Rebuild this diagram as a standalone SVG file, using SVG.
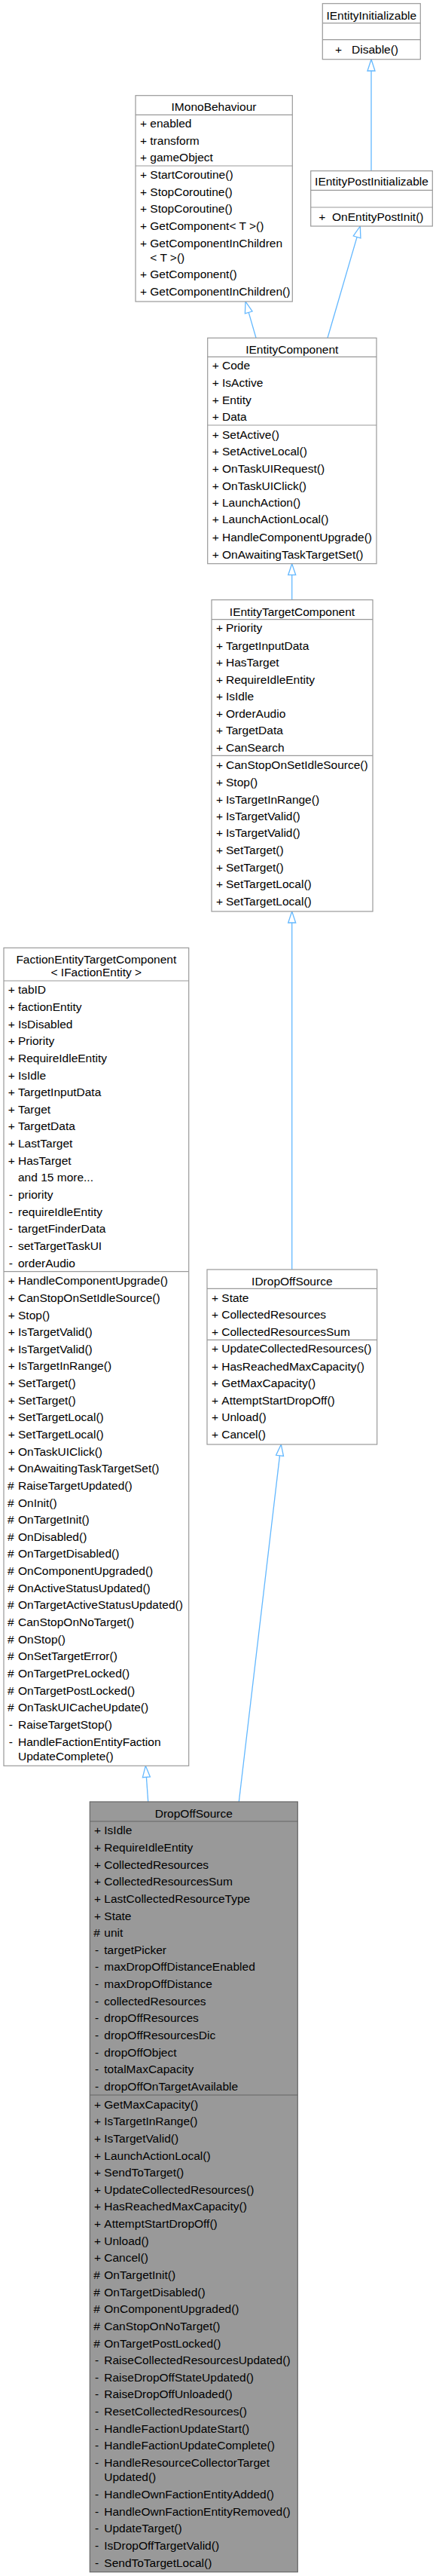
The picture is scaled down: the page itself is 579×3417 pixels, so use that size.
<svg xmlns="http://www.w3.org/2000/svg" width="579" height="3417" viewBox="0 0 579 3417">
<style>
text{font-family:"Liberation Sans",Arial,Helvetica,sans-serif;font-size:15.5px;fill:#000}
.c{text-anchor:middle}
.box{fill:#fff;stroke:#999;stroke-width:1.2}
.sep{stroke:#999;stroke-width:1.2}
.cur{fill:#999;stroke:#666;stroke-width:1.2}
.sepc{stroke:#666;stroke-width:1.2}
.edge{fill:none;stroke:#63b8ff;stroke-width:1.3}
.head{fill:#fff;stroke:#63b8ff;stroke-width:1.3}
</style>
<rect width="579" height="3417" fill="#fff"/>
<g id="edges">
<path class="edge" d="M493,226.7 V94"/>
<polygon class="head" points="493,78.7 488,94 498,94"/>
<path class="edge" d="M340,448.3 L330.2,414.4"/>
<polygon class="head" points="326,400 325.4,415.8 335,413"/>
<path class="edge" d="M435,448.3 L474.1,314.4"/>
<polygon class="head" points="478.3,300 469.3,313 478.9,315.8"/>
<path class="edge" d="M387.7,795.7 V762.7"/>
<polygon class="head" points="387.7,747.7 382.7,762.7 392.7,762.7"/>
<path class="edge" d="M387.7,1684 V1224"/>
<polygon class="head" points="387.7,1209 382.7,1224 392.7,1224"/>
<path class="edge" d="M317.3,2390 L371.5,1930.9"/>
<polygon class="head" points="373.3,1916 366.6,1930.3 376.5,1931.5"/>
<path class="edge" d="M196.7,2390 L194.4,2357.3"/>
<polygon class="head" points="193.3,2342.3 189.4,2357.7 199.4,2357"/>
</g>
<g id="IEntityInitializable">
<rect class="box" x="428.3" y="4.7" width="130" height="74"/>
<line class="sep" x1="428.3" y1="30.7" x2="558.3" y2="30.7"/>
<line class="sep" x1="428.3" y1="52.7" x2="558.3" y2="52.7"/>
<text class="c" x="493.3" y="26">IEntityInitializable</text>
<text x="445" y="70.5">+</text><text x="467" y="70.5">Disable()</text>
</g>
<g id="IMonoBehaviour">
<rect class="box" x="180" y="126.7" width="208.3" height="273.3"/>
<line class="sep" x1="180" y1="152.3" x2="388.3" y2="152.3"/>
<line class="sep" x1="180" y1="220" x2="388.3" y2="220"/>
<text class="c" x="284" y="147">IMonoBehaviour</text>
<text x="186" y="169.3">+</text><text x="199.3" y="169.3">enabled</text>
<text x="186" y="192.3">+</text><text x="199.3" y="192.3">transform</text>
<text x="186" y="214.3">+</text><text x="199.3" y="214.3">gameObject</text>
<text x="186" y="237.3">+</text><text x="199.3" y="237.3">StartCoroutine()</text>
<text x="186" y="260.3">+</text><text x="199.3" y="260.3">StopCoroutine()</text>
<text x="186" y="282.3">+</text><text x="199.3" y="282.3">StopCoroutine()</text>
<text x="186" y="305.3">+</text><text x="199.3" y="305.3">GetComponent&lt; T &gt;()</text>
<text x="186" y="328.3">+</text><text x="199.3" y="328.3">GetComponentInChildren</text>
<text x="199.3" y="346.7">&lt; T &gt;()</text>
<text x="186" y="369.3">+</text><text x="199.3" y="369.3">GetComponent()</text>
<text x="186" y="392.3">+</text><text x="199.3" y="392.3">GetComponentInChildren()</text>
</g>
<g id="IEntityPostInitializable">
<rect class="box" x="412.7" y="226.7" width="161.6" height="73.3"/>
<line class="sep" x1="412.7" y1="252.3" x2="574.3" y2="252.3"/>
<line class="sep" x1="412.7" y1="275" x2="574.3" y2="275"/>
<text class="c" x="493.5" y="246.3">IEntityPostInitializable</text>
<text x="423.3" y="292.5">+</text><text x="441" y="292.5">OnEntityPostInit()</text>
</g>
<g id="IEntityComponent">
<rect class="box" x="275.7" y="448.3" width="224.3" height="299.4"/>
<line class="sep" x1="275.7" y1="473.3" x2="500" y2="473.3"/>
<line class="sep" x1="275.7" y1="564" x2="500" y2="564"/>
<text class="c" x="387.8" y="468.6">IEntityComponent</text>
<text x="281.7" y="490">+</text><text x="295" y="490">Code</text>
<text x="281.7" y="513.3">+</text><text x="295" y="513.3">IsActive</text>
<text x="281.7" y="536">+</text><text x="295" y="536">Entity</text>
<text x="281.7" y="558.3">+</text><text x="295" y="558.3">Data</text>
<text x="281.7" y="581.7">+</text><text x="295" y="581.7">SetActive()</text>
<text x="281.7" y="604.3">+</text><text x="295" y="604.3">SetActiveLocal()</text>
<text x="281.7" y="627.3">+</text><text x="295" y="627.3">OnTaskUIRequest()</text>
<text x="281.7" y="650">+</text><text x="295" y="650">OnTaskUIClick()</text>
<text x="281.7" y="672.3">+</text><text x="295" y="672.3">LaunchAction()</text>
<text x="281.7" y="694.3">+</text><text x="295" y="694.3">LaunchActionLocal()</text>
<text x="281.7" y="717.7">+</text><text x="295" y="717.7">HandleComponentUpgrade()</text>
<text x="281.7" y="740.7">+</text><text x="295" y="740.7">OnAwaitingTaskTargetSet()</text>
</g>
<g id="IEntityTargetComponent">
<rect class="box" x="281" y="795.7" width="214" height="413.3"/>
<line class="sep" x1="281" y1="821.7" x2="495" y2="821.7"/>
<line class="sep" x1="281" y1="1002.3" x2="495" y2="1002.3"/>
<text class="c" x="388" y="817">IEntityTargetComponent</text>
<text x="287" y="838.3">+</text><text x="300" y="838.3">Priority</text>
<text x="287" y="861.7">+</text><text x="300" y="861.7">TargetInputData</text>
<text x="287" y="884.3">+</text><text x="300" y="884.3">HasTarget</text>
<text x="287" y="906.7">+</text><text x="300" y="906.7">RequireIdleEntity</text>
<text x="287" y="929">+</text><text x="300" y="929">IsIdle</text>
<text x="287" y="951.7">+</text><text x="300" y="951.7">OrderAudio</text>
<text x="287" y="974.3">+</text><text x="300" y="974.3">TargetData</text>
<text x="287" y="997">+</text><text x="300" y="997">CanSearch</text>
<text x="287" y="1020.3">+</text><text x="300" y="1020.3">CanStopOnSetIdleSource()</text>
<text x="287" y="1042.7">+</text><text x="300" y="1042.7">Stop()</text>
<text x="287" y="1066">+</text><text x="300" y="1066">IsTargetInRange()</text>
<text x="287" y="1088.3">+</text><text x="300" y="1088.3">IsTargetValid()</text>
<text x="287" y="1110">+</text><text x="300" y="1110">IsTargetValid()</text>
<text x="287" y="1133.3">+</text><text x="300" y="1133.3">SetTarget()</text>
<text x="287" y="1156">+</text><text x="300" y="1156">SetTarget()</text>
<text x="287" y="1178.3">+</text><text x="300" y="1178.3">SetTargetLocal()</text>
<text x="287" y="1201">+</text><text x="300" y="1201">SetTargetLocal()</text>
</g>
<g id="FactionEntityTargetComponent">
<rect class="box" x="5" y="1257.3" width="245.7" height="1085"/>
<line class="sep" x1="5" y1="1301" x2="250.7" y2="1301"/>
<line class="sep" x1="5" y1="1686.7" x2="250.7" y2="1686.7"/>
<text class="c" x="127.8" y="1278">FactionEntityTargetComponent</text>
<text class="c" x="127.8" y="1295.3">&lt; IFactionEntity &gt;</text>
<text x="10.7" y="1318.3">+</text><text x="24" y="1318.3">tabID</text>
<text x="10.7" y="1340.9">+</text><text x="24" y="1340.9">factionEntity</text>
<text x="10.7" y="1363.6">+</text><text x="24" y="1363.6">IsDisabled</text>
<text x="10.7" y="1386.2">+</text><text x="24" y="1386.2">Priority</text>
<text x="10.7" y="1408.9">+</text><text x="24" y="1408.9">RequireIdleEntity</text>
<text x="10.7" y="1431.5">+</text><text x="24" y="1431.5">IsIdle</text>
<text x="10.7" y="1454.1">+</text><text x="24" y="1454.1">TargetInputData</text>
<text x="10.7" y="1476.8">+</text><text x="24" y="1476.8">Target</text>
<text x="10.7" y="1499.4">+</text><text x="24" y="1499.4">TargetData</text>
<text x="10.7" y="1522.1">+</text><text x="24" y="1522.1">LastTarget</text>
<text x="10.7" y="1544.7">+</text><text x="24" y="1544.7">HasTarget</text>
<text x="24" y="1567.3">and 15 more...</text>
<text x="11.7" y="1590">-</text><text x="24" y="1590">priority</text>
<text x="11.7" y="1612.6">-</text><text x="24" y="1612.6">requireIdleEntity</text>
<text x="11.7" y="1635.3">-</text><text x="24" y="1635.3">targetFinderData</text>
<text x="11.7" y="1657.9">-</text><text x="24" y="1657.9">setTargetTaskUI</text>
<text x="11.7" y="1680.5">-</text><text x="24" y="1680.5">orderAudio</text>
<text x="10.7" y="1704.2">+</text><text x="24" y="1704.2">HandleComponentUpgrade()</text>
<text x="10.7" y="1726.8">+</text><text x="24" y="1726.8">CanStopOnSetIdleSource()</text>
<text x="10.7" y="1749.5">+</text><text x="24" y="1749.5">Stop()</text>
<text x="10.7" y="1772.1">+</text><text x="24" y="1772.1">IsTargetValid()</text>
<text x="10.7" y="1794.7">+</text><text x="24" y="1794.7">IsTargetValid()</text>
<text x="10.7" y="1817.4">+</text><text x="24" y="1817.4">IsTargetInRange()</text>
<text x="10.7" y="1840">+</text><text x="24" y="1840">SetTarget()</text>
<text x="10.7" y="1862.7">+</text><text x="24" y="1862.7">SetTarget()</text>
<text x="10.7" y="1885.3">+</text><text x="24" y="1885.3">SetTargetLocal()</text>
<text x="10.7" y="1907.9">+</text><text x="24" y="1907.9">SetTargetLocal()</text>
<text x="10.7" y="1930.6">+</text><text x="24" y="1930.6">OnTaskUIClick()</text>
<text x="10.7" y="1953.2">+</text><text x="24" y="1953.2">OnAwaitingTaskTargetSet()</text>
<text x="10" y="1975.9">#</text><text x="24" y="1975.9">RaiseTargetUpdated()</text>
<text x="10" y="1998.5">#</text><text x="24" y="1998.5">OnInit()</text>
<text x="10" y="2021.1">#</text><text x="24" y="2021.1">OnTargetInit()</text>
<text x="10" y="2043.8">#</text><text x="24" y="2043.8">OnDisabled()</text>
<text x="10" y="2066.4">#</text><text x="24" y="2066.4">OnTargetDisabled()</text>
<text x="10" y="2089.1">#</text><text x="24" y="2089.1">OnComponentUpgraded()</text>
<text x="10" y="2111.7">#</text><text x="24" y="2111.7">OnActiveStatusUpdated()</text>
<text x="10" y="2134.3">#</text><text x="24" y="2134.3">OnTargetActiveStatusUpdated()</text>
<text x="10" y="2157">#</text><text x="24" y="2157">CanStopOnNoTarget()</text>
<text x="10" y="2179.6">#</text><text x="24" y="2179.6">OnStop()</text>
<text x="10" y="2202.3">#</text><text x="24" y="2202.3">OnSetTargetError()</text>
<text x="10" y="2224.9">#</text><text x="24" y="2224.9">OnTargetPreLocked()</text>
<text x="10" y="2247.5">#</text><text x="24" y="2247.5">OnTargetPostLocked()</text>
<text x="10" y="2270.2">#</text><text x="24" y="2270.2">OnTaskUICacheUpdate()</text>
<text x="11.7" y="2292.8">-</text><text x="24" y="2292.8">RaiseTargetStop()</text>
<text x="11.7" y="2315.5">-</text><text x="24" y="2315.5">HandleFactionEntityFaction</text>
<text x="24" y="2334.7">UpdateComplete()</text>
</g>
<g id="IDropOffSource">
<rect class="box" x="275" y="1684" width="225.7" height="232"/>
<line class="sep" x1="275" y1="1709.3" x2="500.7" y2="1709.3"/>
<line class="sep" x1="275" y1="1777.3" x2="500.7" y2="1777.3"/>
<text class="c" x="387.8" y="1704.6">IDropOffSource</text>
<text x="281" y="1726.7">+</text><text x="294.3" y="1726.7">State</text>
<text x="281" y="1749.3">+</text><text x="294.3" y="1749.3">CollectedResources</text>
<text x="281" y="1772.3">+</text><text x="294.3" y="1772.3">CollectedResourcesSum</text>
<text x="281" y="1794.3">+</text><text x="294.3" y="1794.3">UpdateCollectedResources()</text>
<text x="281" y="1817.7">+</text><text x="294.3" y="1817.7">HasReachedMaxCapacity()</text>
<text x="281" y="1840.3">+</text><text x="294.3" y="1840.3">GetMaxCapacity()</text>
<text x="281" y="1862.7">+</text><text x="294.3" y="1862.7">AttemptStartDropOff()</text>
<text x="281" y="1885">+</text><text x="294.3" y="1885">Unload()</text>
<text x="281" y="1907.7">+</text><text x="294.3" y="1907.7">Cancel()</text>
</g>
<g id="DropOffSource">
<rect class="cur" x="119.3" y="2390" width="276" height="1021.7"/>
<line class="sepc" x1="119.3" y1="2416" x2="395.3" y2="2416"/>
<line class="sepc" x1="119.3" y1="2779" x2="395.3" y2="2779"/>
<text class="c" x="257.3" y="2410.6">DropOffSource</text>
<text x="125" y="2433.3">+</text><text x="138.3" y="2433.3">IsIdle</text>
<text x="125" y="2455.9">+</text><text x="138.3" y="2455.9">RequireIdleEntity</text>
<text x="125" y="2478.6">+</text><text x="138.3" y="2478.6">CollectedResources</text>
<text x="125" y="2501.2">+</text><text x="138.3" y="2501.2">CollectedResourcesSum</text>
<text x="125" y="2523.9">+</text><text x="138.3" y="2523.9">LastCollectedResourceType</text>
<text x="125" y="2546.5">+</text><text x="138.3" y="2546.5">State</text>
<text x="124.3" y="2569.1">#</text><text x="138.3" y="2569.1">unit</text>
<text x="126" y="2591.8">-</text><text x="138.3" y="2591.8">targetPicker</text>
<text x="126" y="2614.4">-</text><text x="138.3" y="2614.4">maxDropOffDistanceEnabled</text>
<text x="126" y="2637.1">-</text><text x="138.3" y="2637.1">maxDropOffDistance</text>
<text x="126" y="2659.7">-</text><text x="138.3" y="2659.7">collectedResources</text>
<text x="126" y="2682.3">-</text><text x="138.3" y="2682.3">dropOffResources</text>
<text x="126" y="2705">-</text><text x="138.3" y="2705">dropOffResourcesDic</text>
<text x="126" y="2727.6">-</text><text x="138.3" y="2727.6">dropOffObject</text>
<text x="126" y="2750.3">-</text><text x="138.3" y="2750.3">totalMaxCapacity</text>
<text x="126" y="2772.9">-</text><text x="138.3" y="2772.9">dropOffOnTargetAvailable</text>
<text x="125" y="2796.5">+</text><text x="138.3" y="2796.5">GetMaxCapacity()</text>
<text x="125" y="2819.2">+</text><text x="138.3" y="2819.2">IsTargetInRange()</text>
<text x="125" y="2841.8">+</text><text x="138.3" y="2841.8">IsTargetValid()</text>
<text x="125" y="2864.5">+</text><text x="138.3" y="2864.5">LaunchActionLocal()</text>
<text x="125" y="2887.1">+</text><text x="138.3" y="2887.1">SendToTarget()</text>
<text x="125" y="2909.7">+</text><text x="138.3" y="2909.7">UpdateCollectedResources()</text>
<text x="125" y="2932.4">+</text><text x="138.3" y="2932.4">HasReachedMaxCapacity()</text>
<text x="125" y="2955">+</text><text x="138.3" y="2955">AttemptStartDropOff()</text>
<text x="125" y="2977.7">+</text><text x="138.3" y="2977.7">Unload()</text>
<text x="125" y="3000.3">+</text><text x="138.3" y="3000.3">Cancel()</text>
<text x="124.3" y="3022.9">#</text><text x="138.3" y="3022.9">OnTargetInit()</text>
<text x="124.3" y="3045.6">#</text><text x="138.3" y="3045.6">OnTargetDisabled()</text>
<text x="124.3" y="3068.2">#</text><text x="138.3" y="3068.2">OnComponentUpgraded()</text>
<text x="124.3" y="3090.9">#</text><text x="138.3" y="3090.9">CanStopOnNoTarget()</text>
<text x="124.3" y="3113.5">#</text><text x="138.3" y="3113.5">OnTargetPostLocked()</text>
<text x="126" y="3136.1">-</text><text x="138.3" y="3136.1">RaiseCollectedResourcesUpdated()</text>
<text x="126" y="3158.8">-</text><text x="138.3" y="3158.8">RaiseDropOffStateUpdated()</text>
<text x="126" y="3181.4">-</text><text x="138.3" y="3181.4">RaiseDropOffUnloaded()</text>
<text x="126" y="3204.1">-</text><text x="138.3" y="3204.1">ResetCollectedResources()</text>
<text x="126" y="3226.7">-</text><text x="138.3" y="3226.7">HandleFactionUpdateStart()</text>
<text x="126" y="3249.3">-</text><text x="138.3" y="3249.3">HandleFactionUpdateComplete()</text>
<text x="126" y="3272">-</text><text x="138.3" y="3272">HandleResourceCollectorTarget</text>
<text x="138.3" y="3291.2">Updated()</text>
<text x="126" y="3314">-</text><text x="138.3" y="3314">HandleOwnFactionEntityAdded()</text>
<text x="126" y="3336.7">-</text><text x="138.3" y="3336.7">HandleOwnFactionEntityRemoved()</text>
<text x="126" y="3359.3">-</text><text x="138.3" y="3359.3">UpdateTarget()</text>
<text x="126" y="3381.9">-</text><text x="138.3" y="3381.9">IsDropOffTargetValid()</text>
<text x="126" y="3404.6">-</text><text x="138.3" y="3404.6">SendToTargetLocal()</text>
</g>
</svg>
